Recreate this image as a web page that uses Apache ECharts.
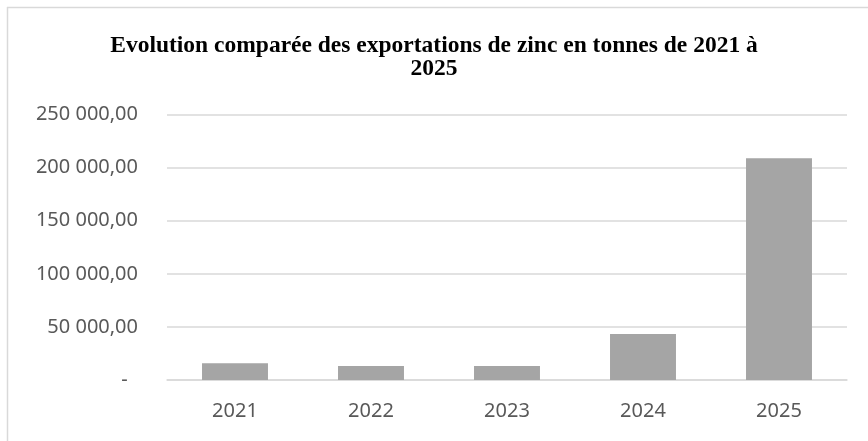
<!DOCTYPE html>
<html>
<head>
<meta charset="utf-8">
<script src="https://cdn.jsdelivr.net/npm/echarts@6/dist/echarts.min.js"></script>
<style>
  html, body { margin: 0; padding: 0; background: #fff; }
  #chart { width: 868px; height: 441px; }
</style>
</head>
<body>
<div id="chart"></div>
<script>
// années
const years = ['2021', '2022', '2023', '2024', '2025'];
// exportations de zinc (tonnes)
const exports = [15700, 13200, 13200, 43300, 208800];
// graduations de l'axe
const yTicks = [0, 50000, 100000, 150000, 200000, 250000];

const chart = echarts.init(document.getElementById('chart'), null, { renderer: 'canvas' });

function frNumber(v) {
  if (v === 0) return '-  ';
  const s = Math.round(v).toString().replace(/\B(?=(\d{3})+(?!\d))/g, ' ');
  return s + ',00';
}

const option = {
  backgroundColor: '#fff',
  animation: false,
  title: {
    text: 'Evolution comparée des exportations de zinc en tonnes de 2021 à\n2025',
    left: 'center',
    top: 29,
    textStyle: {
      fontFamily: 'Liberation Serif',
      fontWeight: 'bold',
      fontSize: 23.5,
      lineHeight: 23,
      color: '#000'
    }
  },
  graphic: [
    { type: 'line', shape: { x1: 7.5, y1: 7, x2: 7.5, y2: 441 }, style: { stroke: '#d9d9d9', lineWidth: 1.5 } },
    { type: 'line', shape: { x1: 7, y1: 7.5, x2: 868, y2: 7.5 }, style: { stroke: '#d9d9d9', lineWidth: 1.5 } }
  ],
  grid: {
    left: 167,
    right: 21,
    top: 114.6,
    bottom: 61
  },
  xAxis: {
    type: 'category',
    data: years,
    axisTick: { show: false },
    axisLine: { show: true, lineStyle: { color: '#d9d9d9', width: 1.5 } },
    axisLabel: {
      margin: 21,
      fontFamily: 'Noto Sans',
      fontSize: 20,
      color: '#595959'
    }
  },
  yAxis: {
    type: 'value',
    min: yTicks[0],
    max: yTicks[yTicks.length - 1],
    interval: yTicks[1] - yTicks[0],
    axisLine: { show: false },
    axisTick: { show: false },
    splitLine: { lineStyle: { color: '#d9d9d9', width: 1.5 } },
    axisLabel: {
      margin: 29,
      fontFamily: 'Noto Sans',
      fontSize: 20,
      color: '#595959',
      formatter: frNumber
    }
  },
  series: [
    {
      name: 'Exportations',
      type: 'bar',
      data: exports,
      barWidth: '48.5%',
      itemStyle: { color: '#a5a5a5' }
    }
  ]
};

chart.setOption(option);
</script>
</body>
</html>
